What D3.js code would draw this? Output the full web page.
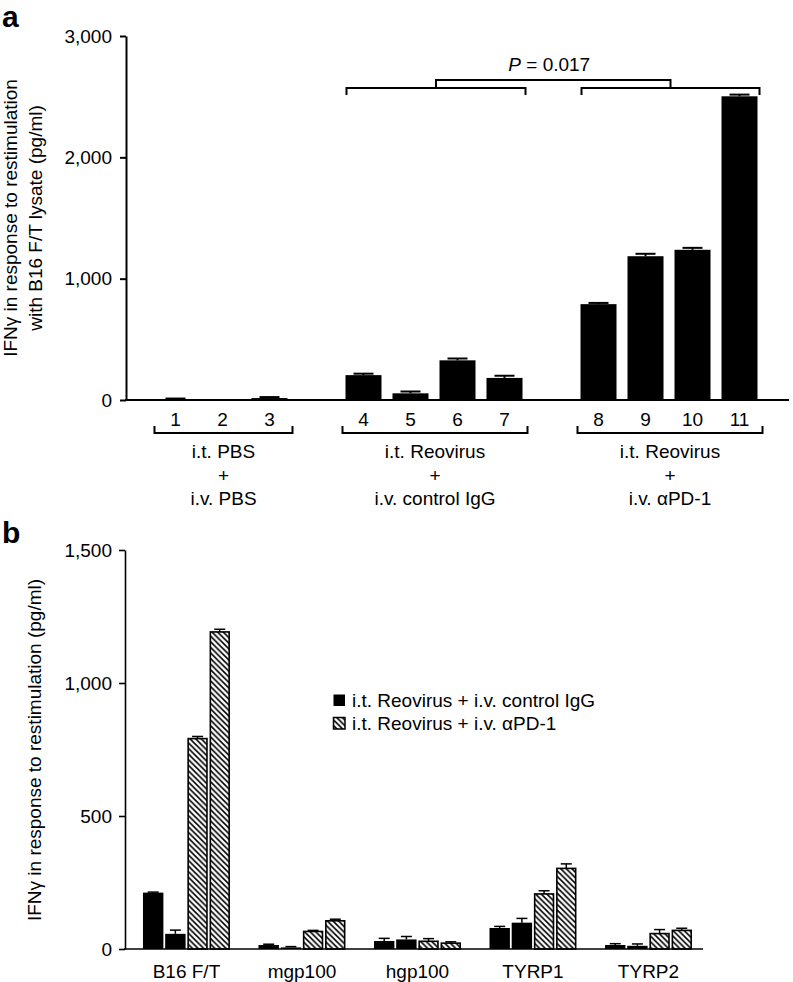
<!DOCTYPE html>
<html><head><meta charset="utf-8">
<script src="https://cdn.jsdelivr.net/npm/d3@7"></script>
<style>
body{margin:0;background:#fff}
svg{display:block}
text{font-family:"Liberation Sans",Arial,Helvetica,sans-serif;fill:#000}
</style>
</head><body><svg id="c" width="793" height="982"></svg>
<script>
// ---------- Panel a data ----------
const labelsA = ["1","2","3","4","5","6","7","8","9","10","11"];
const groupOfA = [0,0,0,1,1,1,1,2,2,2,2];
const valuesA = [6,0,16,205,55,327,182,790,1185,1238,2503];
const errorsA = [6,0,8,12,15,15,18,10,20,16,14];
const groupLinesA = [["i.t. PBS","+","i.v. PBS"],["i.t. Reovirus","+","i.v. control IgG"],["i.t. Reovirus","+","i.v. \u03b1PD-1"]];
const ticksA = [0,1000,2000,3000];
const pLabel = "0.017";

// ---------- Panel b data ----------
const categoriesB = ["B16 F/T","mgp100","hgp100","TYRP1","TYRP2"];
const controlIgG1 = [212,15,30,79,15];
const controlIgG2 = [57,6,36,99,12];
const aPD1_1 = [791,66,29,207,58];
const aPD1_2 = [1192,106,22,303,70];
const errControlIgG1 = [2,3,10,6,5];
const errControlIgG2 = [14,3,11,16,7];
const errAPD1_1 = [8,4,10,12,15];
const errAPD1_2 = [10,6,5,17,8];
const ticksB = [0,500,1000,1500];
const legendB = ["i.t. Reovirus + i.v. control IgG","i.t. Reovirus + i.v. \u03b1PD-1"];

const svg = d3.select("#c");
const FS = 19;

// hatch pattern
const T = 5.6;
const defs = svg.append("defs");
const pat = defs.append("pattern").attr("id","hatch").attr("patternUnits","userSpaceOnUse")
  .attr("width",T).attr("height",T);
pat.append("rect").attr("width",T).attr("height",T).attr("fill","#fff");
pat.append("path").attr("d",`M-1,-1 L${T+1},${T+1} M-2,${T-2} L2,${T+2} M${T-2},-2 L${T+2},2`)
  .attr("stroke","#000").attr("stroke-width",1.6);

// ================= PANEL A =================
const yA = d3.scaleLinear().domain([0,3000]).range([400,36]);
const slotsA = labelsA.map((d,i)=> i + groupOfA[i]);
const xA = d3.scaleBand().domain(d3.range(13)).range([126,789])
  .paddingInner(0.234).paddingOuter(0.67).align(0.5);
const bwA = xA.bandwidth();

svg.append("text").attr("x",2).attr("y",27).attr("font-size",30).attr("font-weight","bold").text("a");

const axA = svg.append("g").attr("transform","translate(126,0)")
  .call(d3.axisLeft(yA).tickValues(ticksA).tickFormat(d3.format(",")).tickSize(6).tickSizeOuter(0).tickPadding(8));
axA.select(".domain").attr("stroke","#000").attr("stroke-width",2);
axA.selectAll(".tick line").attr("stroke","#000").attr("stroke-width",2);
axA.selectAll(".tick text").attr("font-size",FS).attr("font-family",null);

// baseline
svg.append("line").attr("x1",125).attr("x2",789).attr("y1",yA(0)).attr("y2",yA(0))
  .attr("stroke","#000").attr("stroke-width",2);

// y title
const tA = svg.append("text").attr("transform","translate(17,218) rotate(-90)")
  .attr("text-anchor","middle").attr("font-size",FS);
tA.append("tspan").attr("x",0).attr("dy",0).text("IFN\u03b3 in response to restimulation");
tA.append("tspan").attr("x",0).attr("dy",25).text("with B16 F/T lysate (pg/ml)");

// bars
svg.append("g").selectAll("rect").data(valuesA).join("rect")
  .attr("x",(d,i)=>xA(slotsA[i])).attr("width",bwA)
  .attr("y",d=>yA(d)).attr("height",d=>yA(0)-yA(d)).attr("fill","#000");
// error bars
const ebA = svg.append("g").attr("stroke","#000").attr("stroke-width",2);
valuesA.forEach((v,i)=>{
  if(errorsA[i]<=0) return;
  const cx = xA(slotsA[i])+bwA/2;
  ebA.append("line").attr("x1",cx).attr("x2",cx).attr("y1",yA(v)).attr("y2",yA(v+errorsA[i]));
  ebA.append("line").attr("x1",cx-10).attr("x2",cx+10).attr("y1",yA(v+errorsA[i])).attr("y2",yA(v+errorsA[i]));
});

// bar number labels
svg.append("g").selectAll("text").data(labelsA).join("text")
  .attr("x",(d,i)=>xA(slotsA[i])+bwA/2).attr("y",426).attr("text-anchor","middle")
  .attr("font-size",FS).text(d=>d);

// group brackets below
const br = svg.append("g").attr("stroke","#000").attr("stroke-width",2).attr("fill","none");
const groupExt = [0,1,2].map(g=>{
  const idx = groupOfA.map((gg,i)=>gg===g?i:-1).filter(i=>i>=0);
  return [xA(slotsA[idx[0]]), xA(slotsA[idx[idx.length-1]])+bwA];
});
groupExt.forEach(([a,b],g)=>{
  const l=a-3, r=b+5;
  br.append("path").attr("d",`M${l},426 V433 H${r} V426`);
  const t = svg.append("text").attr("text-anchor","middle").attr("font-size",FS);
  groupLinesA[g].forEach((s,k)=>{
    t.append("tspan").attr("x",(l+r)/2).attr("y",458+k*23.5).text(s);
  });
});

// significance brackets
const bA = groupExt[1], bB = groupExt[2];
const lA = bA[0]+1, rA = bA[1]+3, lB = bB[0]+1, rB = bB[1]+2;
br.append("path").attr("d",`M${lA},95 V88 H${rA} V95`);
br.append("path").attr("d",`M${lB},95 V88 H${rB} V95`);
const cA=(lA+rA)/2, cB=(lB+rB)/2;
br.append("path").attr("d",`M${cA},88 V80 H${cB} V88`);
const pt = svg.append("text").attr("x",(cA+cB)/2-4).attr("y",71).attr("text-anchor","middle").attr("font-size",FS);
pt.append("tspan").attr("font-style","italic").text("P");
pt.append("tspan").text(" = "+pLabel);

// ================= PANEL B =================
const yB = d3.scaleLinear().domain([0,1500]).range([949,550]);
const xB = d3.scaleBand().domain(categoriesB).range([125,703]).paddingInner(0.247).paddingOuter(0.1255).align(0.62);
const seriesB = [
  {vals:controlIgG1, err:errControlIgG1, hatch:false},
  {vals:controlIgG2, err:errControlIgG2, hatch:false},
  {vals:aPD1_1, err:errAPD1_1, hatch:true},
  {vals:aPD1_2, err:errAPD1_2, hatch:true}
];
const xIn = d3.scaleBand().domain(d3.range(4)).range([0,xB.bandwidth()]).paddingInner(0.08);
const bwB = xIn.bandwidth();

svg.append("text").attr("x",2).attr("y",543).attr("font-size",30).attr("font-weight","bold").text("b");

const axB = svg.append("g").attr("transform","translate(125,0)")
  .call(d3.axisLeft(yB).tickValues(ticksB).tickFormat(d3.format(",")).tickSize(6).tickSizeOuter(0).tickPadding(7));
axB.select(".domain").attr("stroke","#000").attr("stroke-width",1.6);
axB.selectAll(".tick line").attr("stroke","#000").attr("stroke-width",1.6);
axB.selectAll(".tick text").attr("font-size",FS).attr("font-family",null);

svg.append("text").attr("transform","translate(41,750) rotate(-90)")
  .attr("text-anchor","middle").attr("font-size",FS)
  .text("IFN\u03b3 in response to restimulation (pg/ml)");

const gB = svg.append("g");
seriesB.forEach((s,si)=>{
  categoriesB.forEach((c,ci)=>{
    const v = s.vals[ci], x = xB(c)+xIn(si);
    if(s.hatch){
      gB.append("rect").attr("x",x+0.8).attr("width",bwB-1.6).attr("y",yB(v)).attr("height",yB(0)-yB(v))
        .attr("fill","url(#hatch)").attr("stroke","#000").attr("stroke-width",1.6);
    } else {
      gB.append("rect").attr("x",x).attr("width",bwB).attr("y",yB(v)).attr("height",yB(0)-yB(v)).attr("fill","#000");
    }
    const e = s.err[ci], cx = x+bwB/2;
    gB.append("line").attr("x1",cx).attr("x2",cx).attr("y1",yB(v)).attr("y2",yB(v+e)).attr("stroke","#000").attr("stroke-width",1.5);
    gB.append("line").attr("x1",cx-5.5).attr("x2",cx+5.5).attr("y1",yB(v+e)).attr("y2",yB(v+e)).attr("stroke","#000").attr("stroke-width",1.5);
  });
});

svg.append("line").attr("x1",124).attr("x2",703).attr("y1",yB(0)).attr("y2",yB(0))
  .attr("stroke","#000").attr("stroke-width",1.6);

svg.append("g").selectAll("text").data(categoriesB).join("text")
  .attr("x",d=>xB(d)+xB.bandwidth()/2).attr("y",978).attr("text-anchor","middle")
  .attr("font-size",FS).text(d=>d);

// legend
const lg = svg.append("g");
legendB.forEach((s,i)=>{
  const y = 707 + i*23;
  lg.append("rect").attr("x",333.5).attr("y",y-12.5).attr("width",11.5).attr("height",11.5)
    .attr("fill", i===0?"#000":"url(#hatch)").attr("stroke","#000").attr("stroke-width",i===0?0:1.5);
  lg.append("text").attr("x",352).attr("y",y).attr("font-size",FS).text(s);
});
</script>
</body></html>
